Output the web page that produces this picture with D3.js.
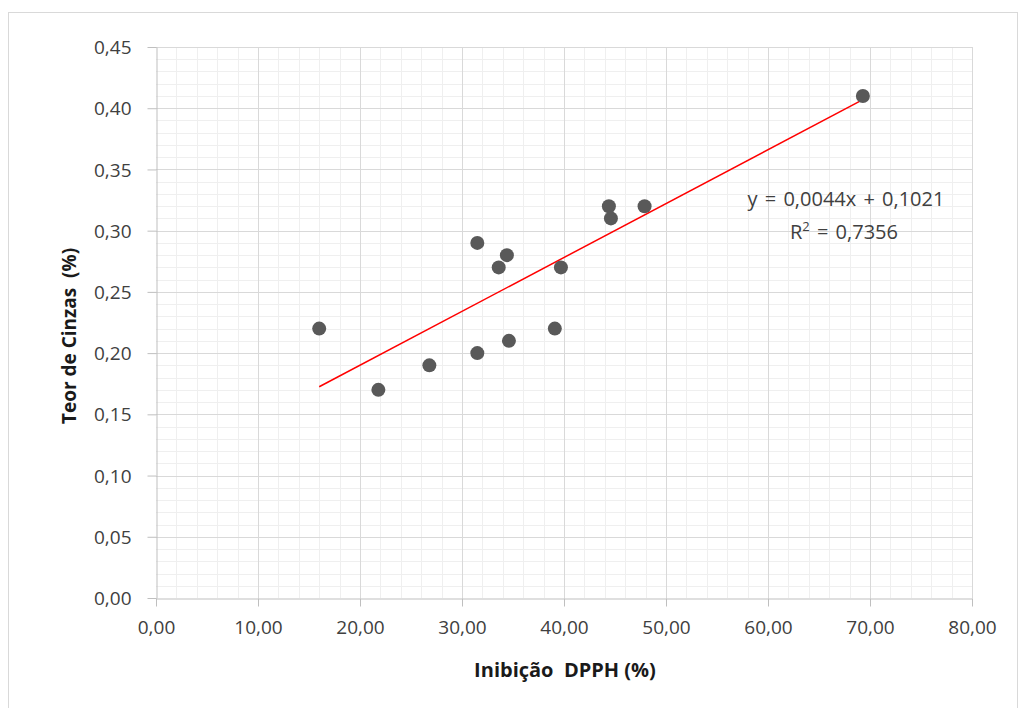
<!DOCTYPE html>
<html><head><meta charset="utf-8">
<script src="https://cdn.jsdelivr.net/npm/d3@7"></script>
<style>body{margin:0;background:#fff}svg{display:block}</style>
</head><body>
<script>
const xValues = [16.0, 21.8, 26.8, 31.5, 31.5, 33.6, 34.4, 34.6, 39.1, 39.7, 44.4, 44.6, 47.9, 69.3];
const yValues = [0.22, 0.17, 0.19, 0.29, 0.20, 0.27, 0.28, 0.21, 0.22, 0.27, 0.32, 0.31, 0.32, 0.41];
const xTicks = [0, 10, 20, 30, 40, 50, 60, 70, 80];
const yTicks = [0, 0.05, 0.10, 0.15, 0.20, 0.25, 0.30, 0.35, 0.40, 0.45];
const slope = 0.0044, intercept = 0.1021;
const eqText = "y = 0,0044x + 0,1021";
const r2Text = "0,7356";
const xTitle = "Inibição  DPPH (%)";
const yTitle = "Teor de Cinzas  (%)";

(function () {
const W = 1018, H = 708;
const svg = d3.select("body").append("svg").attr("width", W).attr("height", H);
svg.append("rect").attr("x", 8.5).attr("y", 12.5).attr("width", W - 9).attr("height", H - 12)
  .attr("fill", "#fff").attr("stroke", "#d9d9d9");

const pL = 156, pR = 972, pT = 47, pB = 598;
const x = d3.scaleLinear().domain([0, 80]).range([pL, pR]);
const y = d3.scaleLinear().domain([0, 0.45]).range([pB, pT]);
const font = "'Open Sans', sans-serif";

const g = svg.append("g");
g.selectAll(".mx").data(d3.range(0, 81, 2).filter(v => v % 10 !== 0)).enter().append("line")
  .attr("x1", d => Math.round(x(d)) + 0.5).attr("x2", d => Math.round(x(d)) + 0.5)
  .attr("y1", pT).attr("y2", pB).attr("stroke", "#efefef");
g.selectAll(".my").data(d3.range(0, 46).filter(v => v % 5 !== 0).map(v => v / 100)).enter().append("line")
  .attr("y1", d => Math.round(y(d)) + 0.5).attr("y2", d => Math.round(y(d)) + 0.5)
  .attr("x1", pL).attr("x2", pR).attr("stroke", "#efefef");
g.selectAll(".Mx").data(xTicks.slice(1)).enter().append("line")
  .attr("x1", d => Math.round(x(d)) + 0.5).attr("x2", d => Math.round(x(d)) + 0.5)
  .attr("y1", pT).attr("y2", pB).attr("stroke", "#d9d9d9");
g.selectAll(".My").data(yTicks.slice(1)).enter().append("line")
  .attr("y1", d => Math.round(y(d)) + 0.5).attr("y2", d => Math.round(y(d)) + 0.5)
  .attr("x1", pL).attr("x2", pR).attr("stroke", "#d9d9d9");

const fmt2 = d => d.toFixed(2).replace(".", ",");
const xAxis = svg.append("g").attr("transform", `translate(0,${pB + 0.5})`)
  .call(d3.axisBottom(x).tickValues(xTicks).tickFormat(fmt2).tickSize(8).tickSizeOuter(0));
const yAxis = svg.append("g").attr("transform", `translate(${pL + 0.5},0)`)
  .call(d3.axisLeft(y).tickValues(yTicks).tickFormat(fmt2).tickSize(9).tickSizeOuter(0));
[xAxis, yAxis].forEach(a => {
  a.select(".domain").attr("stroke", "#bfbfbf");
  a.selectAll(".tick line").attr("stroke", "#bfbfbf");
  a.selectAll("text").attr("fill", "#404040").style("font-family", font).style("font-size", "19px");
});
xAxis.selectAll("text").attr("y", 35).attr("dy", 0);
yAxis.selectAll("text").attr("x", -25).attr("dy", "0.35em");

const xMin = d3.min(xValues), xMax = d3.max(xValues);
svg.append("line").attr("x1", x(xMin)).attr("y1", y(slope * xMin + intercept))
  .attr("x2", x(xMax)).attr("y2", y(slope * xMax + intercept))
  .attr("stroke", "#ff0000").attr("stroke-width", 1.5);

svg.selectAll(".pt").data(xValues.map((v, i) => [v, yValues[i]])).enter().append("circle")
  .attr("cx", d => x(d[0])).attr("cy", d => y(d[1])).attr("r", 7).attr("fill", "#595959");

svg.append("text").attr("x", 846).attr("y", 206).attr("text-anchor", "middle")
  .style("font-family", font).style("font-size", "20px").style("word-spacing", "2px")
  .attr("fill", "#404040").text(eqText);
const r2 = svg.append("text").attr("x", 844).attr("y", 239).attr("text-anchor", "middle")
  .style("font-family", font).style("font-size", "20px").style("word-spacing", "2px")
  .attr("fill", "#404040");
r2.append("tspan").text("R");
r2.append("tspan").attr("dy", -8).style("font-size", "13px").text("2");
r2.append("tspan").attr("dy", 8).text(" = " + r2Text);

svg.append("text").attr("x", 565).attr("y", 677).attr("text-anchor", "middle")
  .style("font-family", font).style("font-size", "20px").style("font-weight", "bold")
  .style("white-space", "pre").attr("fill", "#1a1a1a").text(xTitle);
svg.append("text").attr("transform", `translate(76,336) rotate(-90)`).attr("text-anchor", "middle")
  .style("font-family", font).style("font-size", "19px").style("font-weight", "bold")
  .style("white-space", "pre").attr("fill", "#1a1a1a").text(yTitle);
})();
</script>
</body></html>
